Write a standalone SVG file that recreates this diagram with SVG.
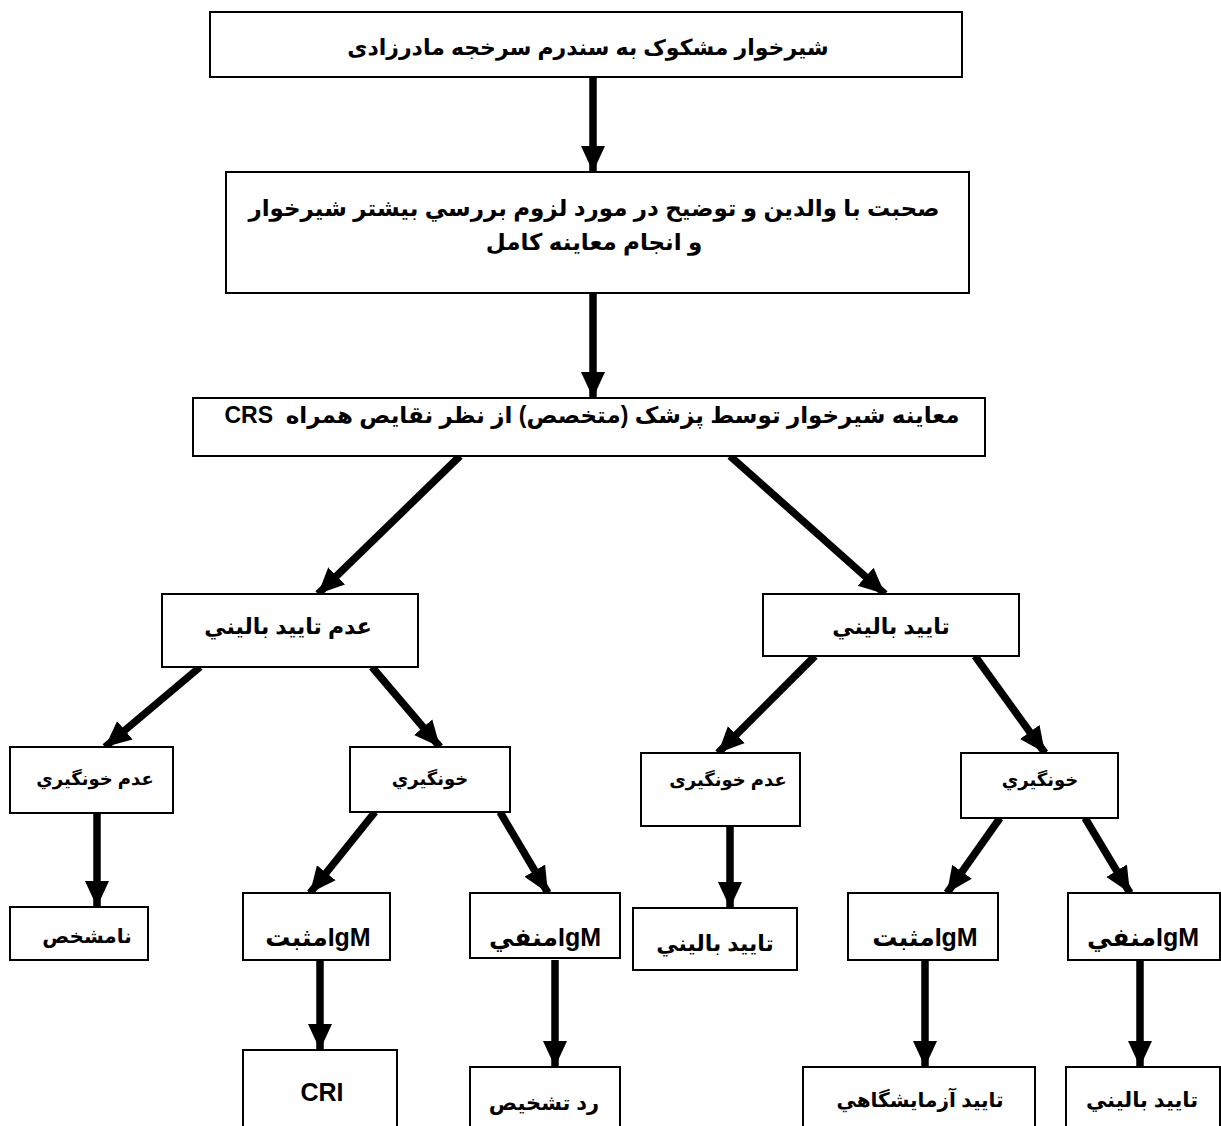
<svg xmlns="http://www.w3.org/2000/svg" width="1221" height="1126" viewBox="0 0 1221 1126">
<style>
.box{fill:#fff;stroke:#000;stroke-width:2}
.t{font-family:"Liberation Sans","DejaVu Sans",sans-serif;font-weight:bold;fill:#000;text-anchor:middle;direction:rtl;unicode-bidi:embed}
.c{stroke:#000;stroke-width:7.5;fill:none}
</style>
<defs>
<marker id="ah" markerUnits="userSpaceOnUse" markerWidth="26" markerHeight="26" viewBox="0 0 26 26" refX="26" refY="13" orient="auto">
<path d="M0,1 L26,13 L0,25 Z" fill="#000"/>
</marker>
</defs>
<rect width="1221" height="1126" fill="#fff"/>
<g id="connectors">
<line class="c" x1="593" y1="77" x2="593" y2="172" marker-end="url(#ah)"/>
<line class="c" x1="593" y1="293" x2="593" y2="398" marker-end="url(#ah)"/>
<line class="c" x1="460" y1="456" x2="318" y2="594" marker-end="url(#ah)"/>
<line class="c" x1="730" y1="456" x2="885" y2="594" marker-end="url(#ah)"/>
<line class="c" x1="200" y1="667" x2="105" y2="747" marker-end="url(#ah)"/>
<line class="c" x1="372" y1="667" x2="440" y2="747" marker-end="url(#ah)"/>
<line class="c" x1="815" y1="656" x2="718" y2="753" marker-end="url(#ah)"/>
<line class="c" x1="975" y1="656" x2="1045" y2="753" marker-end="url(#ah)"/>
<line class="c" x1="97" y1="813" x2="97" y2="907" marker-end="url(#ah)"/>
<line class="c" x1="375" y1="812" x2="310" y2="893" marker-end="url(#ah)"/>
<line class="c" x1="500" y1="812" x2="548" y2="893" marker-end="url(#ah)"/>
<line class="c" x1="730" y1="826" x2="730" y2="908" marker-end="url(#ah)"/>
<line class="c" x1="1000" y1="818" x2="947" y2="893" marker-end="url(#ah)"/>
<line class="c" x1="1085" y1="818" x2="1130" y2="893" marker-end="url(#ah)"/>
<line class="c" x1="320" y1="960" x2="320" y2="1050" marker-end="url(#ah)"/>
<line class="c" x1="555" y1="960" x2="555" y2="1067" marker-end="url(#ah)"/>
<line class="c" x1="925" y1="960" x2="925" y2="1067" marker-end="url(#ah)"/>
<line class="c" x1="1140" y1="960" x2="1140" y2="1067" marker-end="url(#ah)"/>
</g>
<g id="n1"><rect class="box" x="210" y="12" width="752" height="65"/><text class="t" x="588" y="55" font-size="22">شیرخوار مشکوک به سندرم سرخجه مادرزادی</text></g>
<g id="n2"><rect class="box" x="226" y="172" width="743" height="121"/><text class="t" x="594" y="216" font-size="23">صحبت با والدین و توضیح در مورد لزوم بررسي بیشتر شیرخوار</text><text class="t" x="594" y="250" font-size="23">و انجام معاینه کامل</text></g>
<g id="n3"><rect class="box" x="193" y="398" width="792" height="58"/><text class="t" x="592" y="423" font-size="23" style="white-space:pre">معاینه شیرخوار توسط پزشک (متخصص) از نظر نقایص همراه  CRS</text></g>
<g id="n4"><rect class="box" x="162" y="594" width="256" height="73"/><text class="t" x="288" y="634" font-size="22">عدم تایید بالیني</text></g>
<g id="n5"><rect class="box" x="763" y="594" width="256" height="62"/><text class="t" x="891" y="634" font-size="22">تایید بالیني</text></g>
<g id="n6"><rect class="box" x="10" y="747" width="163" height="66"/><text class="t" x="95" y="785" font-size="18">عدم خونگیري</text></g>
<g id="n7"><rect class="box" x="350" y="747" width="160" height="65"/><text class="t" x="430" y="785" font-size="18">خونگیري</text></g>
<g id="n8"><rect class="box" x="641" y="753" width="159" height="73"/><text class="t" x="728" y="786" font-size="18">عدم خونگیری</text></g>
<g id="n9"><rect class="box" x="961" y="753" width="157" height="65"/><text class="t" x="1040" y="786" font-size="18">خونگیري</text></g>
<g id="n10"><rect class="box" x="10" y="907" width="138" height="53"/><text class="t" x="87" y="943" font-size="20">نامشخص</text></g>
<g id="n11"><rect class="box" x="243" y="893" width="147" height="67"/><text class="t" x="318" y="946" font-size="25">IgMمثبت</text></g>
<g id="n12"><rect class="box" x="470" y="893" width="150" height="65"/><text class="t" x="545" y="946" font-size="25">IgMمنفي</text></g>
<g id="n13"><rect class="box" x="633" y="908" width="164" height="62"/><text class="t" x="715" y="951" font-size="22">تایید بالیني</text></g>
<g id="n14"><rect class="box" x="848" y="893" width="150" height="67"/><text class="t" x="925" y="946" font-size="25">IgMمثبت</text></g>
<g id="n15"><rect class="box" x="1068" y="893" width="152" height="67"/><text class="t" x="1143" y="946" font-size="25">IgMمنفي</text></g>
<g id="n16"><rect class="box" x="243" y="1050" width="154" height="90"/><text class="t" x="322" y="1101" font-size="25">CRI</text></g>
<g id="n17"><rect class="box" x="470" y="1067" width="150" height="70"/><text class="t" x="544" y="1110" font-size="21">رد تشخیص</text></g>
<g id="n18"><rect class="box" x="803" y="1067" width="232" height="70"/><text class="t" x="920" y="1107" font-size="20">تایید آزمایشگاهي</text></g>
<g id="n19"><rect class="box" x="1066" y="1067" width="154" height="70"/><text class="t" x="1142" y="1107" font-size="21">تایید بالیني</text></g>
</svg>
